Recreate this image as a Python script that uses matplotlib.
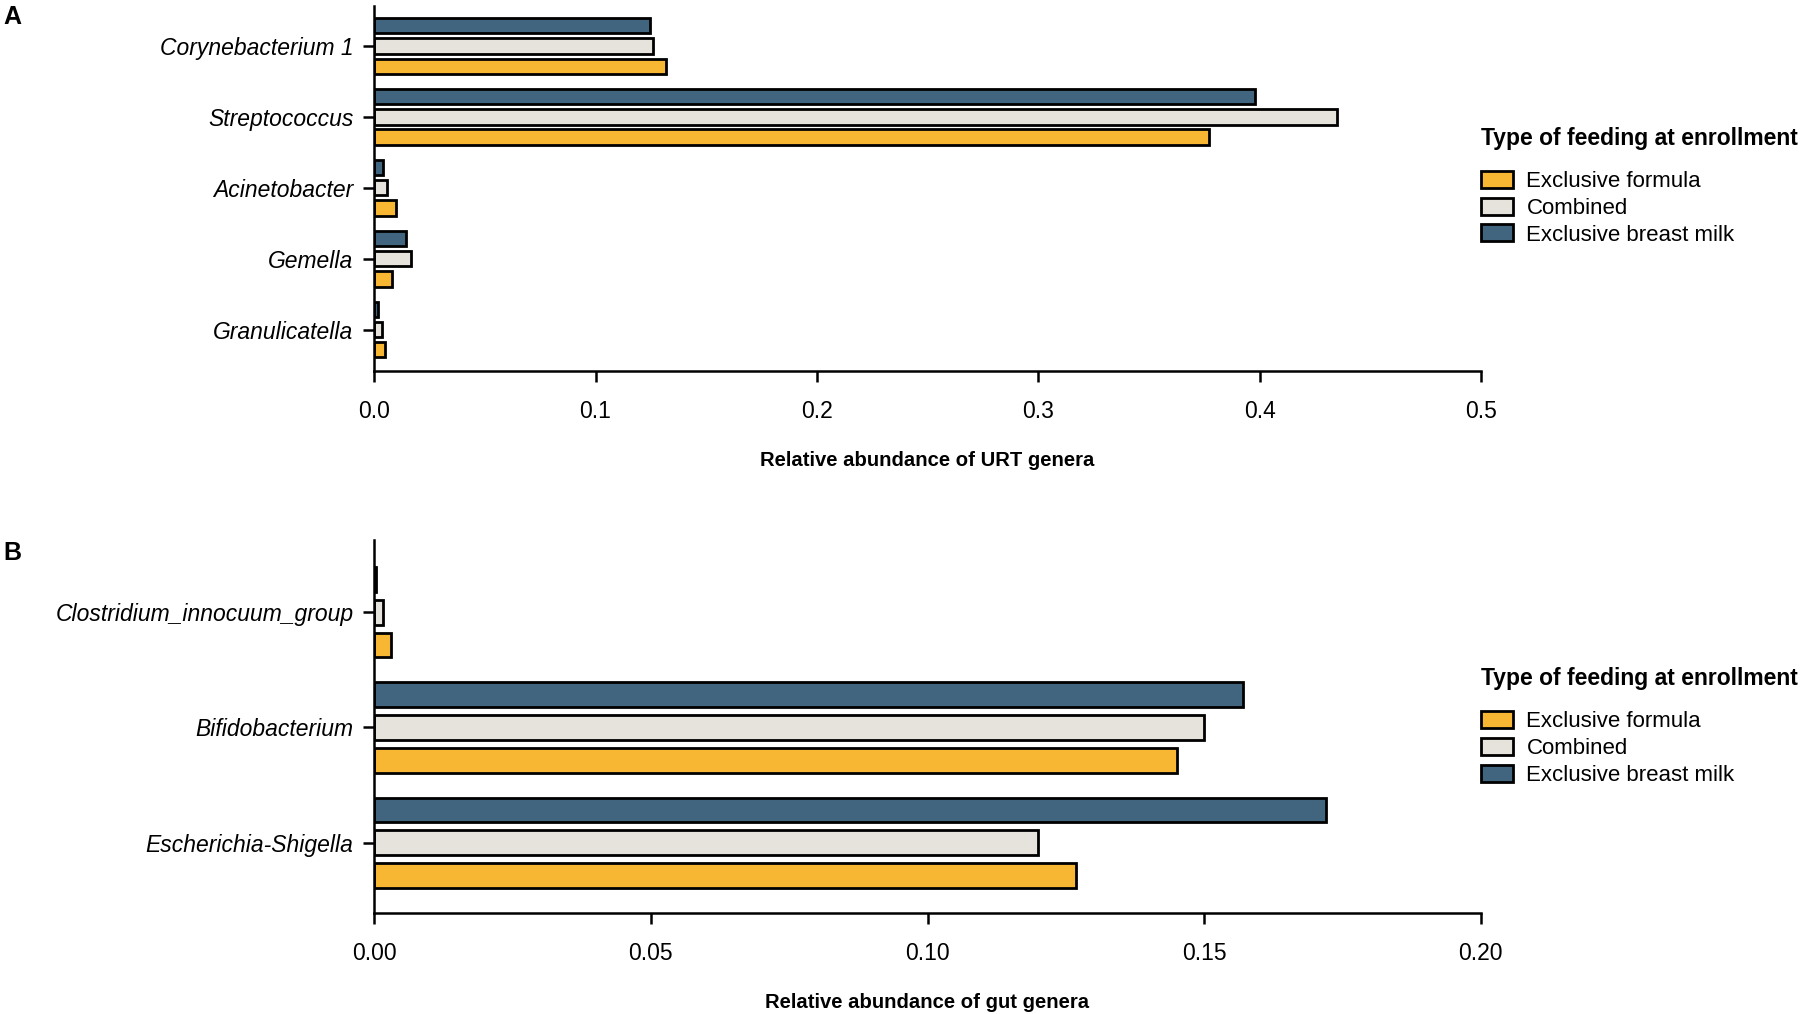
import matplotlib
matplotlib.use("Agg")
import matplotlib.pyplot as plt
import numpy as np
from matplotlib.patches import Patch

plt.rcParams['font.family'] = ['Liberation Sans', 'DejaVu Sans']

# Panel A data (URT genera)
urt_genera = ["Corynebacterium 1", "Streptococcus", "Acinetobacter", "Gemella", "Granulicatella"]
urt_formula = [0.132, 0.377, 0.010, 0.008, 0.005]
urt_combined = [0.126, 0.435, 0.006, 0.0165, 0.0036]
urt_breast = [0.1245, 0.398, 0.0039, 0.0143, 0.0016]
urt_ticks = [0.0, 0.1, 0.2, 0.3, 0.4, 0.5]
urt_ticklabels = ["0.0", "0.1", "0.2", "0.3", "0.4", "0.5"]

# Panel B data (gut genera)
gut_genera = ["Clostridium_innocuum_group", "Bifidobacterium", "Escherichia-Shigella"]
gut_formula = [0.003, 0.145, 0.1268]
gut_combined = [0.0016, 0.150, 0.120]
gut_breast = [0.0004, 0.157, 0.172]
gut_ticks = [0.0, 0.05, 0.10, 0.15, 0.20]
gut_ticklabels = ["0.00", "0.05", "0.10", "0.15", "0.20"]

groups = ["Exclusive formula", "Combined", "Exclusive breast milk"]
colors = ["#F8B733", "#E6E2DC", "#42657F"]

fig = plt.figure(figsize=(18, 10.14), dpi=100)

def panel(rect, genera, formula, combined, breast, ticks, ticklabels, xlabel, letter, letter_y,
          ylim, leg_y):
    ax = fig.add_axes(rect)
    y = np.arange(len(genera))
    h = 0.215
    off = 0.285
    for vals, c, o in [(breast, colors[2], -off), (combined, colors[1], 0), (formula, colors[0], off)]:
        ax.barh(y + o, vals, height=h, color=c, edgecolor="black", linewidth=2)
    ax.set_ylim(*ylim)
    ax.set_xlim(ticks[0], ticks[-1])
    ax.set_yticks(y)
    ax.set_yticklabels(genera, fontstyle="italic", fontsize=16.5)
    ax.set_xticks(ticks)
    ax.set_xticklabels(ticklabels, fontsize=16.5)
    ax.spines["top"].set_visible(False)
    ax.spines["right"].set_visible(False)
    ax.spines["left"].set_linewidth(1.8)
    ax.spines["bottom"].set_linewidth(1.8)
    ax.tick_params(axis="y", width=1.8, length=8, pad=7)
    ax.tick_params(axis="x", width=1.8, length=8, pad=13)
    ax.set_xlabel(xlabel, fontsize=14.6, fontweight="bold", labelpad=20)
    handles = [Patch(facecolor=colors[i], edgecolor="black", linewidth=2, label=groups[i]) for i in range(3)]
    leg = ax.legend(handles=handles, title="Type of feeding at enrollment", loc="upper left",
                    bbox_to_anchor=(1.0, leg_y), frameon=False, fontsize=16,
                    title_fontproperties={"weight": "bold", "size": 16.5},
                    borderaxespad=0, borderpad=0,
                    handlelength=1.45, handleheight=0.8, handletextpad=0.6, labelspacing=0.25)
    leg._legend_box.align = "left"
    leg._legend_box.sep = 15
    fig.text(0.002, letter_y, letter, fontsize=18, fontweight="bold", va="center")
    return ax

panel([0.2079, 0.6342, 0.6148, 0.3601], urt_genera, urt_formula, urt_combined, urt_breast,
      urt_ticks, urt_ticklabels, "Relative abundance of URT genera", "A", 0.983,
      (4.583, -0.567), 0.668)
panel([0.2079, 0.0997, 0.6148, 0.368], gut_genera, gut_formula, gut_combined, gut_breast,
      gut_ticks, gut_ticklabels, "Relative abundance of gut genera", "B", 0.455,
      (2.607, -0.627), 0.658)

fig.savefig("out.png", dpi=100)
